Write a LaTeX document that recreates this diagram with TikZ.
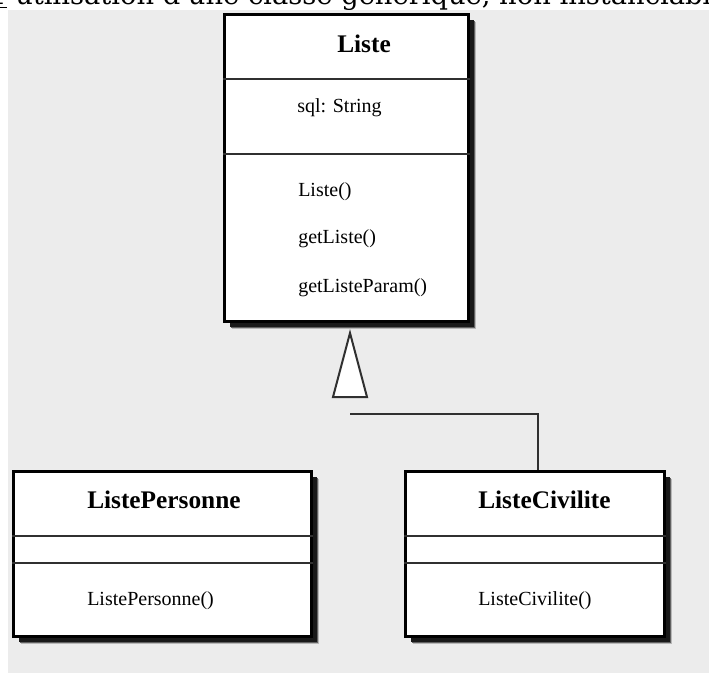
\documentclass[tikz,border=0pt]{standalone}
\usepackage{fontspec}
\setmainfont{Liberation Serif}
\newfontfamily\headfont{DejaVu Serif}
\usetikzlibrary{shadows}

\definecolor{panel}{HTML}{ECECEC}
\definecolor{rule}{HTML}{303030}
\def\px{0.75pt}

\begin{document}
\begin{tikzpicture}[x=0.75pt,y=-0.75pt,
  classbox/.style={rectangle, draw=black, fill=white, line width=2pt,
    inner sep=0pt, anchor=north west,
    general shadow={fill=black!28, shadow xshift=5.8pt, shadow yshift=-5.8pt},
    general shadow={fill=black!62, shadow xshift=4.9pt, shadow yshift=-4.9pt},
    general shadow={fill=black!90, shadow xshift=3.9pt, shadow yshift=-3.9pt}},
  divider/.style={draw=rule, line width=1.8pt},
  classname/.style={anchor=base west, inner sep=0pt,
    font=\fontsize{19}{22}\selectfont\bfseries},
  member/.style={anchor=base west, inner sep=0pt,
    font=\fontsize{15}{18}\selectfont},
  generalization/.style={draw=rule, fill=white, line width=1.5pt, line join=miter},
  link/.style={draw=rule, line width=1.5pt}]

\useasboundingbox (0,0) rectangle (709,673);

% caption line above the diagram panel
\node[anchor=base west, inner sep=0pt, font=\headfont\fontsize{20.5}{24}\selectfont]
  (caption) at (-11,5) {\underline{1} utilisation d'une classe générique, non instanciable};

% diagram panel
\fill[panel] (8,10) rectangle (709,673);

% class Liste
\node[classbox, minimum width=244*\px, minimum height=307*\px] (liste) at (223,13) {};
\draw[divider] (liste.west |- 0,79) -- (liste.east |- 0,79);
\draw[divider] (liste.west |- 0,154) -- (liste.east |- 0,154);
\node[classname] (listeName) at (337,53) {Liste};
\node[member] (listeSql) at (297,113) {sql: String};
\node[member] (listeCtor) at (298,197) {Liste()};
\node[member] (listeGet) at (298,244) {getListe()};
\node[member] (listeGetParam) at (298,292) {getListeParam()};

% class ListePersonne
\node[classbox, minimum width=298*\px, minimum height=165*\px] (pers) at (12,470) {};
\draw[divider] (pers.west |- 0,536) -- (pers.east |- 0,536);
\draw[divider] (pers.west |- 0,563) -- (pers.east |- 0,563);
\node[classname] (persName) at (87,508) {ListePersonne};
\node[member] (persCtor) at (87,605) {ListePersonne()};

% class ListeCivilite
\node[classbox, minimum width=259*\px, minimum height=165*\px] (civ) at (404,470) {};
\draw[divider] (civ.west |- 0,536) -- (civ.east |- 0,536);
\draw[divider] (civ.west |- 0,563) -- (civ.east |- 0,563);
\node[classname] (civName) at (478,508) {ListeCivilite};
\node[member] (civCtor) at (478,605) {ListeCivilite()};

% generalization arrow towards Liste
\coordinate (apex) at (350,333);
\draw[generalization] (apex) -- ++(-17,64) -- ++(34,0) -- cycle;
\coordinate (stub) at (350,414);
\draw[link] (stub) -| ([xshift=2.6pt]civ.north);

\end{tikzpicture}
\end{document}
